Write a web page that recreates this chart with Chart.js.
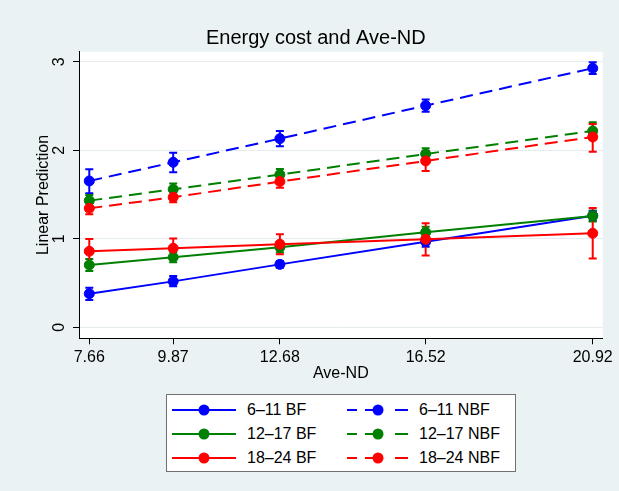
<!DOCTYPE html>
<html>
<head>
<meta charset="utf-8">
<script src="https://cdn.jsdelivr.net/npm/chart.js@4"></script>
<style>
  body { margin: 0; background: #eaf2f3; }
  #wrap { position: relative; width: 619px; height: 491px; }
  #legend {
    position: absolute; left: 166px; top: 394px; width: 350px; height: 78px;
    box-sizing: border-box; background: #fff; border: 1px solid #707070;
    font-family: 'Liberation Sans', Arial, sans-serif; font-size: 16px; color: #000;
  }
  .item { position: absolute; height: 14px; }
  .item svg { position: absolute; left: 0; top: 0; }
  .item span { position: absolute; top: -2px; white-space: nowrap; line-height: 18px; }
</style>
</head>
<body>
<div id="wrap">
  <canvas id="chart" width="619" height="491"></canvas>
  <div id="legend"></div>
</div>
<script>
// eixo x e rótulos
const xVals = [7.66, 9.87, 12.68, 16.52, 20.92];
const xLabels = ["7.66", "9.87", "12.68", "16.52", "20.92"];
const yTicks = [0, 1, 2, 3];

// previsões lineares e intervalos de confiança
const bf611 = [0.380, 0.519, 0.711, 0.967, 1.261];
const bf611Lo = [0.309, 0.463, 0.674, 0.911, 1.205];
const bf611Hi = [0.448, 0.580, 0.749, 1.024, 1.318];

const bf1217 = [0.704, 0.791, 0.904, 1.073, 1.258];
const bf1217Lo = [0.636, 0.734, 0.847, 1.013, 1.195];
const bf1217Hi = [0.772, 0.847, 0.968, 1.137, 1.318];

const bf1824 = [0.859, 0.893, 0.938, 0.994, 1.062];
const bf1824Lo = [0.723, 0.780, 0.825, 0.810, 0.776];
const bf1824Hi = [0.998, 1.002, 1.051, 1.176, 1.349];

const nbf611 = [1.653, 1.864, 2.131, 2.504, 2.926];
const nbf611Lo = [1.514, 1.751, 2.045, 2.436, 2.862];
const nbf611Hi = [1.785, 1.973, 2.218, 2.572, 2.994];

const nbf1217 = [1.431, 1.559, 1.725, 1.958, 2.218];
const nbf1217Lo = [1.363, 1.495, 1.664, 1.898, 2.120];
const nbf1217Hi = [1.495, 1.623, 1.789, 2.022, 2.316];

const nbf1824 = [1.344, 1.469, 1.646, 1.879, 2.150];
const nbf1824Lo = [1.277, 1.412, 1.577, 1.766, 1.984];
const nbf1824Hi = [1.400, 1.525, 1.713, 1.992, 2.297];

const BLUE = "#0000ff", GREEN = "#008000", RED = "#ff0000";

function series(label, vals, lo, hi, color, dashed, order) {
  return {
    label: label,
    data: xVals.map((x, i) => ({ x: x, y: vals[i] })),
    lower: lo,
    upper: hi,
    borderColor: color,
    backgroundColor: color,
    borderWidth: 2,
    borderDash: dashed ? [13, 7] : [],
    pointRadius: 5,
    pointBorderWidth: 1,
    pointBackgroundColor: color,
    pointBorderColor: color,
    tension: 0,
    fill: false,
    order: order
  };
}

const datasets = [
  series("6–11 BF", bf611, bf611Lo, bf611Hi, BLUE, false, 5),
  series("12–17 BF", bf1217, bf1217Lo, bf1217Hi, GREEN, false, 4),
  series("18–24 BF", bf1824, bf1824Lo, bf1824Hi, RED, false, 3),
  series("6–11 NBF", nbf611, nbf611Lo, nbf611Hi, BLUE, true, 2),
  series("12–17 NBF", nbf1217, nbf1217Lo, nbf1217Hi, GREEN, true, 1),
  series("18–24 NBF", nbf1824, nbf1824Lo, nbf1824Hi, RED, true, 0)
];

// fundo branco da área do gráfico
const plotBg = {
  id: "plotBg",
  beforeDraw(chart) {
    const { ctx, chartArea: a } = chart;
    ctx.save();
    ctx.fillStyle = "#ffffff";
    ctx.fillRect(a.left, a.top, a.right - a.left, a.bottom - a.top);
    ctx.restore();
  }
};

// barras de erro (IC)
const errorBars = {
  id: "errorBars",
  beforeDatasetsDraw(chart) {
    const { ctx, scales: { x, y } } = chart;
    ctx.save();
    ctx.lineWidth = 2;
    ctx.setLineDash([]);
    chart.data.datasets.forEach(ds => {
      ctx.strokeStyle = ds.borderColor;
      ds.lower.forEach((lo, i) => {
        const px = x.getPixelForValue(xVals[i]);
        const y1 = y.getPixelForValue(lo);
        const y2 = y.getPixelForValue(ds.upper[i]);
        ctx.beginPath();
        ctx.moveTo(px, y1); ctx.lineTo(px, y2);
        ctx.moveTo(px - 4, y1); ctx.lineTo(px + 4, y1);
        ctx.moveTo(px - 4, y2); ctx.lineTo(px + 4, y2);
        ctx.stroke();
      });
    });
    ctx.restore();
  }
};

Chart.defaults.font.family = "'Liberation Sans', Arial, sans-serif";
Chart.defaults.color = "#000";

new Chart(document.getElementById("chart"), {
  type: "line",
  data: { datasets: datasets },
  options: {
    responsive: false,
    animation: false,
    layout: { padding: { left: 29, right: 16.3, top: 0, bottom: 102.7 } },
    plugins: {
      legend: { display: false },
      tooltip: { enabled: false },
      title: {
        display: true,
        text: "Energy cost and Ave-ND",
        font: { size: 20, weight: "normal" },
        color: "#000",
        padding: { top: 26, bottom: 1.7 }
      }
    },
    scales: {
      x: {
        type: "linear",
        min: 7.389,
        max: 21.183,
        afterBuildTicks: s => { s.ticks = xVals.map(v => ({ value: v })); },
        afterFit: s => { s.height = 50; },
        ticks: {
          font: { size: 16 },
          color: "#000",
          padding: 4,
          autoSkip: false,
          maxRotation: 0,
          callback: v => xLabels[xVals.indexOf(v)]
        },
        grid: { drawOnChartArea: false, drawTicks: true, tickLength: 6, tickColor: "#000" },
        border: { color: "#000", width: 1 },
        title: { display: true, text: "Ave-ND", font: { size: 16 }, color: "#000", padding: { top: 0, bottom: 4.7 } }
      },
      y: {
        min: -0.124,
        max: 3.113,
        afterBuildTicks: s => { s.ticks = yTicks.map(v => ({ value: v })); },
        afterFit: s => { s.width = 50; },
        ticks: {
          font: { size: 16 },
          color: "#000",
          padding: 9.3,
          minRotation: 90,
          maxRotation: 90,
          crossAlign: "center",
          callback: v => String(v)
        },
        grid: { color: "#e4ecef", lineWidth: 1, tickLength: 6, tickColor: "#000" },
        border: { color: "#000", width: 1 },
        title: { display: true, text: "Linear Prediction", font: { size: 16 }, color: "#000", padding: { top: 4.5, bottom: 0 } }
      }
    }
  },
  plugins: [plotBg, errorBars]
});

// legenda em HTML, duas colunas
const legendBox = document.getElementById("legend");
const rowTops = [8, 32.3, 56.3];
datasets.forEach((ds, i) => {
  const col = i < 3 ? 0 : 1;
  const row = i % 3;
  const item = document.createElement("div");
  item.className = "item";
  item.style.top = rowTops[row] + "px";
  let svg;
  if (col === 0) {
    item.style.left = "5px";
    svg = '<svg width="66" height="14"><line x1="0" y1="7" x2="64" y2="7" stroke="' + ds.borderColor +
      '" stroke-width="2"/><circle cx="32" cy="7" r="5.5" fill="' + ds.borderColor + '"/></svg>';
  } else {
    item.style.left = "180px";
    svg = '<svg width="66" height="14"><path d="M0 7H10M18 7H36M48 7H61" stroke="' + ds.borderColor +
      '" stroke-width="2"/><circle cx="31" cy="7" r="5.5" fill="' + ds.borderColor + '"/></svg>';
  }
  const txtLeft = col === 0 ? 75 : 72;
  item.innerHTML = svg + '<span style="left:' + txtLeft + 'px">' + ds.label + '</span>';
  legendBox.appendChild(item);
});
</script>
</body>
</html>
